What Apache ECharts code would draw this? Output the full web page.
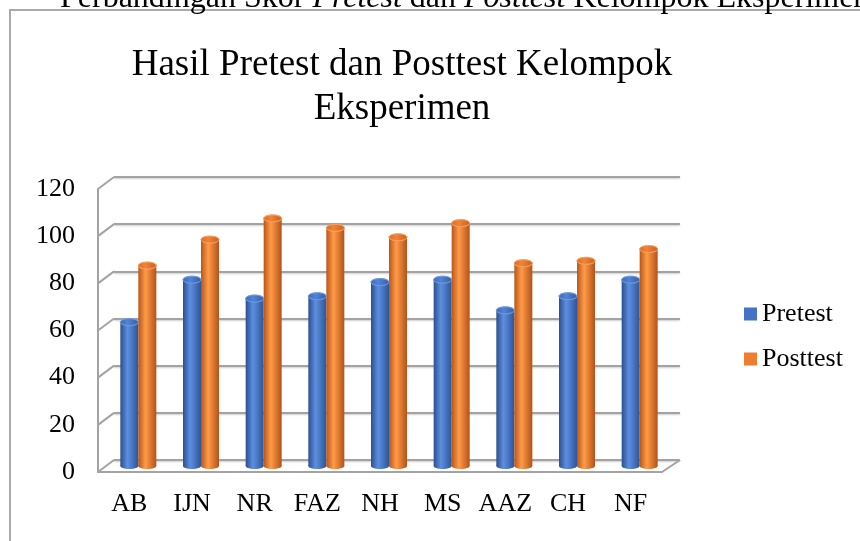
<!DOCTYPE html>
<html><head><meta charset="utf-8">
<script src="https://cdn.jsdelivr.net/npm/echarts@6/dist/echarts.min.js"></script>
<style>html,body{margin:0;padding:0;background:#fff}#c{width:860px;height:541px}</style>
</head><body><div id="c"></div>
<script>
const categories = ['AB','IJN','NR','FAZ','NH','MS','AAZ','CH','NF'];
const pretest = [61,79,71,72,78,79,66,72,79];
const posttest = [85,96,105,101,97,103,86,87,92];
const yMin = 0, yMax = 120, yStep = 20;
const seriesNames = ['Pretest','Posttest'];

const FONT = "'Liberation Serif','Times New Roman',serif";
const GRID_COLOR = '#a3a3a3';
// layout (front plane, bar plane, back wall)
const GA = {left:98, right:198, top:189, bottom:69};
const GB = {left:107, right:189, top:183, bottom:75};
const GC = {left:114, right:180, top:177, bottom:81};
const BAR_W = 18;

const chart = echarts.init(document.getElementById('c'));
function grad(c1, c2, c3){
  return new echarts.graphic.LinearGradient(0,0,1,0,[
    {offset:0,color:c1},{offset:0.4,color:c2},{offset:1,color:c3}]);
}
const blueBody = grad('#2b4f8f','#5d8fe0','#2d5599');
const orangeBody = grad('#b9561a','#ff9b47','#b4521a');
const blueCap = grad('#3c68b5','#5283d6','#34609f');
const orangeCap = grad('#d86a22','#f08436','#c95f1d');

function capRenderer(dx, body, cap, rim){
  return function(params, api){
    const top = api.coord([api.value(0), api.value(1)]);
    const bot = api.coord([api.value(0), 0]);
    const x = top[0] + dx;
    return {type:'group', children:[
      {type:'ellipse', shape:{cx:x, cy:bot[1], rx:BAR_W/2, ry:3}, style:{fill:body}},
      {type:'ellipse', shape:{cx:x, cy:top[1], rx:BAR_W/2, ry:3.5}, style:{fill:cap, stroke:rim, lineWidth:0.8}}
    ]};
  };
}

const axisFont = {fontFamily:FONT, fontSize:26, color:'#000'};

chart.setOption({
  animation:false,
  backgroundColor:'#fff',
  title:{
    text:'Hasil Pretest dan Posttest Kelompok\nEksperimen',
    left:397, top:38, textAlign:'center',
    textStyle:{fontFamily:FONT, fontSize:37, fontWeight:'normal', color:'#000', lineHeight:44}
  },
  legend:{
    orient:'vertical', left:744, top:301, padding:0, itemWidth:13, itemHeight:13, itemGap:19,
    icon:'rect', textStyle:axisFont,
    data:[{name:seriesNames[0], itemStyle:{color:'#4472c4'}},{name:seriesNames[1], itemStyle:{color:'#ed7d31'}}]
  },
  grid:[
    Object.assign({}, GA),
    Object.assign({}, GB),
    Object.assign({}, GC)
  ],
  xAxis:[
    {type:'category', gridIndex:0, data:categories, axisTick:{show:false},
     axisLine:{lineStyle:{color:GRID_COLOR, width:2}},
     axisLabel:Object.assign({margin:19, interval:0, hideOverlap:false}, axisFont)},
    {type:'category', gridIndex:1, data:categories, show:false},
    {type:'category', gridIndex:2, data:categories, show:false}
  ],
  yAxis:[
    {type:'value', gridIndex:0, min:yMin, max:yMax, interval:yStep, splitLine:{show:false},
     axisLine:{show:true, lineStyle:{color:GRID_COLOR, width:2}}, axisTick:{show:false},
     axisLabel:Object.assign({margin:23}, axisFont)},
    {type:'value', gridIndex:1, min:yMin, max:yMax, interval:yStep, show:false, splitLine:{show:false}},
    {type:'value', gridIndex:2, min:yMin, max:yMax, interval:yStep, axisLabel:{show:false},
     axisLine:{show:false}, axisTick:{show:false},
     splitLine:{show:true, lineStyle:{color:GRID_COLOR, width:2, shadowColor:'rgba(0,0,0,0.2)', shadowBlur:2, shadowOffsetY:1}}}
  ],
  series:[
    {name:seriesNames[0], type:'bar', xAxisIndex:1, yAxisIndex:1, data:pretest, barWidth:BAR_W, barGap:'0%',
     itemStyle:{color:blueBody}, z:3},
    {name:seriesNames[1], type:'bar', xAxisIndex:1, yAxisIndex:1, data:posttest, barWidth:BAR_W, barGap:'0%',
     itemStyle:{color:orangeBody}, z:3},
    {name:'capPre', type:'custom', xAxisIndex:1, yAxisIndex:1, z:4,
     data:pretest.map((v,i)=>[i,v]), renderItem:capRenderer(-BAR_W/2, blueBody, blueCap, '#6f98de')},
    {name:'capPost', type:'custom', xAxisIndex:1, yAxisIndex:1, z:4,
     data:posttest.map((v,i)=>[i,v]), renderItem:capRenderer(BAR_W/2, orangeBody, orangeCap, '#f7a060')}
  ]
});

// 3D wall / floor connectors computed from the axes
const ticks = [];
for (let v = yMin; v <= yMax; v += yStep) ticks.push(v);
const lineStyle = {stroke:GRID_COLOR, lineWidth:2};
const g = [];
ticks.forEach(v=>{
  const yf = chart.convertToPixel({yAxisIndex:0}, v);
  const yb = chart.convertToPixel({yAxisIndex:2}, v);
  g.push({type:'line', shape:{x1:GA.left, y1:yf, x2:GC.left, y2:yb}, style:lineStyle, z:1});
});
const yf0 = chart.convertToPixel({yAxisIndex:0}, yMin);
const yb0 = chart.convertToPixel({yAxisIndex:2}, yMin);
g.push({type:'line', shape:{x1:860-GA.right, y1:yf0, x2:860-GC.right, y2:yb0}, style:lineStyle, z:1});
// outer frame
g.push({type:'polyline', shape:{points:[[10,541],[10,10],[860,10]]}, style:{stroke:'#aaaaaa', lineWidth:2, fill:null}, z:1});
// cut-off caption above the frame
g.push({type:'text', x:60, y:15, z:2, style:{
  text:'{n|Perbandingan Skor }{i|Pretest}{n| dan }{i|Posttest}{n| Kelompok Eksperimen}',
  textVerticalAlign:'bottom',
  rich:{n:{fontFamily:FONT, fontSize:32, fill:'#000'}, i:{fontFamily:FONT, fontSize:32, fontStyle:'italic', fill:'#000'}}
}});
chart.setOption({graphic:g});
</script>
</body></html>
